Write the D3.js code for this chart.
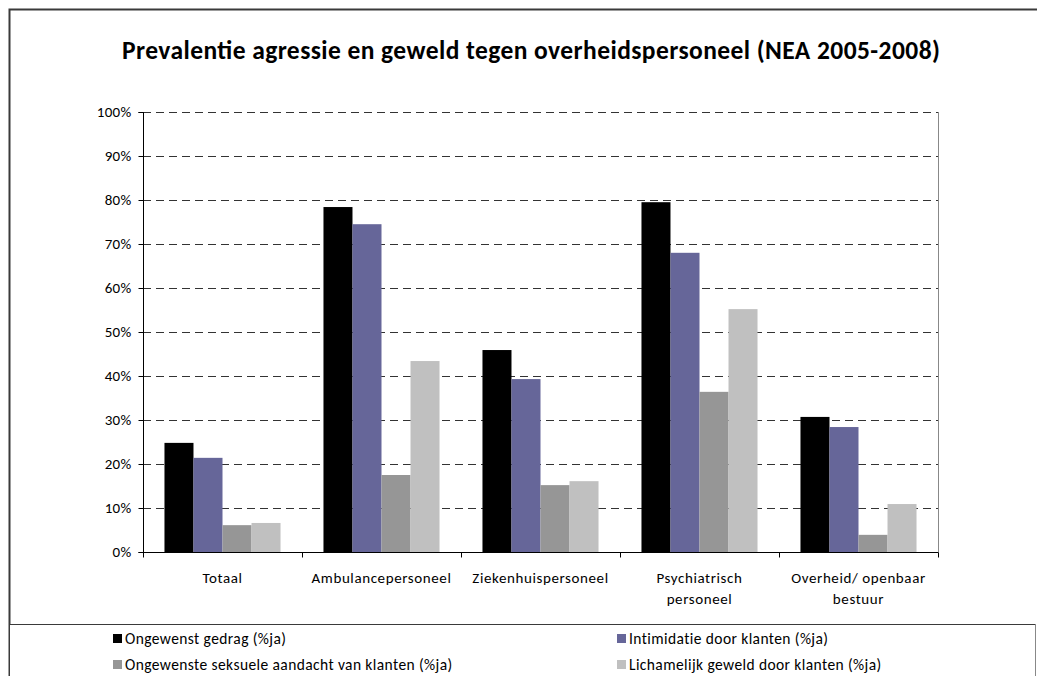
<!DOCTYPE html>
<html><head><meta charset="utf-8">
<script src="https://cdn.jsdelivr.net/npm/d3@7"></script>
<style>
body{margin:0;background:#fff;}
text{font-family:Carlito,Calibri,Lato,"Open Sans",sans-serif;}
</style></head>
<body><svg id="c" width="1037" height="676"></svg>
<script>
const title = "Prevalentie agressie en geweld tegen overheidspersoneel (NEA 2005-2008)";
const categories = ["Totaal","Ambulancepersoneel","Ziekenhuispersoneel","Psychiatrisch\npersoneel","Overheid/ openbaar\nbestuur"];
const seriesNames = ["Ongewenst gedrag (%ja)","Intimidatie door klanten (%ja)","Ongewenste seksuele aandacht van klanten (%ja)","Lichamelijk geweld door klanten (%ja)"];
const seriesColors = ["#000000","#666699","#969696","#c0c0c0"];
const ongewenstGedrag = [24.8,78.4,45.9,79.5,30.7];
const intimidatie = [21.4,74.5,39.3,68.0,28.4];
const seksueleAandacht = [6.1,17.5,15.2,36.4,3.9];
const lichamelijkGeweld = [6.6,43.4,16.1,55.2,10.9];
const yTicks = [0,10,20,30,40,50,60,70,80,90,100];
const seriesValues = [ongewenstGedrag,intimidatie,seksueleAandacht,lichamelijkGeweld];

const svg = d3.select("#c");
const L=143,R=938,T=112,B=552;

// outer frame
svg.append("rect").attr("x",9.5).attr("y",9.5).attr("width",1040).attr("height",700)
  .attr("fill","none").attr("stroke","#3a3a3a").attr("stroke-width",2);

svg.append("text").attr("x",531).attr("y",59).attr("text-anchor","middle")
  .attr("font-size",25.5).attr("font-weight","bold").attr("fill","#000")
  .attr("textLength",818).attr("lengthAdjust","spacing").text(title);

const x0 = d3.scaleBand().domain(categories).range([L,R]).paddingInner(0).paddingOuter(0);
const x1 = d3.scaleBand().domain(d3.range(4)).range([0,x0.bandwidth()]).paddingInner(0).paddingOuter(0.74);
const y = d3.scaleLinear().domain([0,100]).range([B,T]);

// gridlines
svg.append("g").selectAll("line").data(yTicks.filter(d=>d>0)).join("line")
  .attr("x1",L).attr("x2",R).attr("y1",d=>y(d)+0.5).attr("y2",d=>y(d)+0.5)
  .attr("stroke","#333").attr("stroke-width",1).attr("stroke-dasharray","8,5");

// right border of plot
svg.append("line").attr("x1",R+0.5).attr("x2",R+0.5).attr("y1",T).attr("y2",B)
  .attr("stroke","#888").attr("stroke-width",1);

// bars
const g = svg.append("g");
categories.forEach((c,ci)=>{
  seriesValues.forEach((vals,si)=>{
    g.append("rect").attr("x",x0(c)+x1(si)).attr("width",x1.bandwidth())
      .attr("y",y(vals[ci])).attr("height",B-y(vals[ci])).attr("fill",seriesColors[si]);
  });
});

// y axis
const ya = svg.append("g").attr("transform",`translate(${L+0.5},0)`)
  .call(d3.axisLeft(y).tickValues(yTicks).tickFormat(d=>d+"%").tickSize(5).tickPadding(7));
ya.select(".domain").attr("stroke","#000").attr("d",`M-5,${T+0.5}H0V${B+0.5}H-5`);
ya.selectAll(".tick line").attr("stroke","#000");
ya.selectAll(".tick text").attr("font-size",15).attr("fill","#000").attr("letter-spacing",0.3)
  .attr("font-family","Carlito,Calibri,Lato,'Open Sans',sans-serif");

// x axis
const xa = svg.append("g").attr("transform",`translate(0,${B+0.5})`);
xa.append("line").attr("x1",L).attr("x2",R+0.5).attr("y1",0).attr("y2",0).attr("stroke","#000");
const bounds = categories.map(c=>x0(c)).concat([R]);
xa.selectAll("line.tk").data(bounds).join("line").attr("class","tk")
  .attr("x1",d=>d+0.5).attr("x2",d=>d+0.5).attr("y1",0).attr("y2",5).attr("stroke","#000");
categories.forEach(c=>{
  const lines=c.split("\n");
  const t=xa.append("text").attr("text-anchor","middle").attr("font-size",15).attr("fill","#000")
    .attr("letter-spacing",0.6).attr("x",x0(c)+x0.bandwidth()/2).attr("y",30);
  lines.forEach((ln,i)=>t.append("tspan").attr("x",x0(c)+x0.bandwidth()/2).attr("dy",i?21:0).text(ln));
});

// legend
svg.append("rect").attr("x",9.5).attr("y",624.5).attr("width",1026).attr("height",80)
  .attr("fill","#fff").attr("stroke","#3a3a3a").attr("stroke-width",1);
svg.append("line").attr("x1",1035.5).attr("x2",1035.5).attr("y1",624).attr("y2",676).attr("stroke","#888");
const legPos=[[113,634],[617,634],[113,660],[617,660]];
seriesNames.forEach((n,i)=>{
  const [lx,ly]=legPos[i];
  svg.append("rect").attr("x",lx).attr("y",ly).attr("width",9).attr("height",9).attr("fill",seriesColors[i]);
  svg.append("text").attr("x",lx+12).attr("y",ly+10).attr("font-size",15.5).attr("letter-spacing",0.4)
    .attr("fill","#000").text(n);
});
</script></body></html>
